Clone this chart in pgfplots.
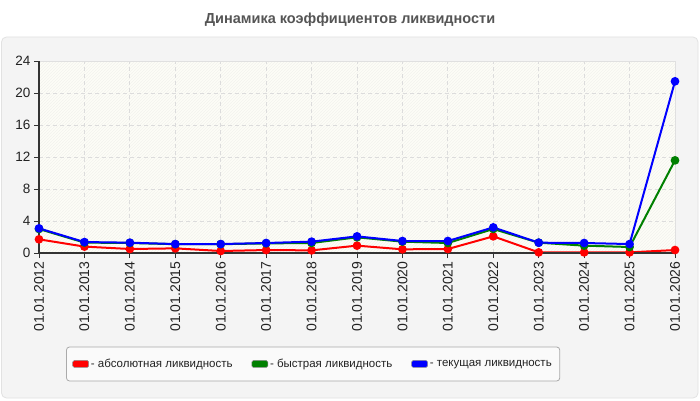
\documentclass[border=0pt]{standalone}
\usepackage{fontspec}
\setmainfont{Liberation Sans}
\usepackage{pgfplots}
\pgfplotsset{compat=1.18}
\usetikzlibrary{patterns}

\definecolor{panel}{HTML}{F4F4F4}
\definecolor{panelborder}{HTML}{E2E2E2}
\definecolor{plotbg}{HTML}{FDFDF7}
\definecolor{gridc}{HTML}{DCDCDC}
\definecolor{axisc}{HTML}{333333}
\definecolor{bordc}{HTML}{E0E0E0}
\definecolor{tickc}{HTML}{222222}
\definecolor{titlec}{HTML}{555555}
\definecolor{legbg}{HTML}{FAFAFA}
\definecolor{legc}{HTML}{AAAAAA}
\definecolor{hatch}{HTML}{F3F3EE}
\definecolor{cred}{HTML}{FF0000}
\definecolor{cgreen}{HTML}{008000}
\definecolor{cblue}{HTML}{0000FF}

\begin{document}
\begin{tikzpicture}
  \path[use as bounding box] (0,0) rectangle (700pt,400pt);
  \fill[white] (0,0) rectangle (700pt,400pt);
  \draw[panelborder, fill=panel, line width=0.8pt, rounded corners=5pt]
    (1.5pt,2pt) rectangle (698pt,363pt);
  \node[font=\fontsize{14.5}{14.5}\selectfont\bfseries, text=titlec] at (350pt,380pt)
    {Динамика коэффициентов ликвидности};

  \begin{axis}[
    at={(39pt,147pt)}, anchor=south west,
    scale only axis, width=636pt, height=192pt,
    xmin=0, xmax=14, ymin=0, ymax=24,
    xtick={0,...,14},
    xticklabels={01.01.2012,01.01.2013,01.01.2014,01.01.2015,01.01.2016,
      01.01.2017,01.01.2018,01.01.2019,01.01.2020,01.01.2021,01.01.2022,
      01.01.2023,01.01.2024,01.01.2025,01.01.2026},
    ytick={0,4,...,24},
    /pgf/number format/assume math mode=true,
    x tick label style={rotate=90, anchor=east, text=tickc,
      font=\fontsize{14}{14}\selectfont},
    y tick label style={text=tickc, font=\fontsize{13.5}{13.5}\selectfont},
    tick align=outside, tick pos=left, major tick length=5pt,
    tick style={draw=axisc, line width=1pt},
    grid=major,
    grid style={draw=gridc, line width=0.8pt, dash pattern=on 4pt off 3pt},
    axis line style={draw=bordc, line width=0.8pt},
    axis background/.style={fill=plotbg,
      postaction={pattern=north east lines, pattern color=hatch}},
    clip=false,
    legend columns=3,
    legend style={at={(0.431,-0.578)}, anchor=center,
      draw=legc, fill=legbg, rounded corners=3pt, line width=0.8pt,
      font=\fontsize{11.5}{11.5}\selectfont, text=tickc,
      inner xsep=6pt, inner ysep=10pt,
      /tikz/every even column/.append style={column sep=17pt}},
    legend image code/.code={%
      \draw[#1, fill, draw=black!45, line width=0.5pt, rounded corners=1.5pt]
        (0pt,-3.5pt) rectangle (16pt,3.5pt);},
  ]
    \addplot[cred, line width=2pt, mark=*, mark size=3.3pt] coordinates {
      (0,1.71) (1,0.80) (2,0.50) (3,0.58) (4,0.25) (5,0.37) (6,0.33) (7,0.92)
      (8,0.46) (9,0.50) (10,2.08) (11,0.08) (12,0.08) (13,0.08) (14,0.37)};
    \addlegendentry{- абсолютная ликвидность}
    \addplot[cgreen, line width=2pt, mark=*, mark size=3.3pt] coordinates {
      (0,3.00) (1,1.30) (2,1.25) (3,1.10) (4,1.10) (5,1.20) (6,1.25) (7,1.96)
      (8,1.42) (9,1.25) (10,3.00) (11,1.29) (12,0.92) (13,0.75) (14,11.58)};
    \addlegendentry{- быстрая ликвидность}
    \addplot[cblue, line width=2pt, mark=*, mark size=3.3pt] coordinates {
      (0,3.08) (1,1.37) (2,1.29) (3,1.12) (4,1.12) (5,1.25) (6,1.42) (7,2.08)
      (8,1.50) (9,1.50) (10,3.20) (11,1.29) (12,1.25) (13,1.12) (14,21.46)};
    \addlegendentry{- текущая ликвидность}
    \draw[axisc, line width=1.2pt]
      (rel axis cs:0,1) -- (rel axis cs:0,0) -- (rel axis cs:1,0);
  \end{axis}
\end{tikzpicture}
\end{document}
